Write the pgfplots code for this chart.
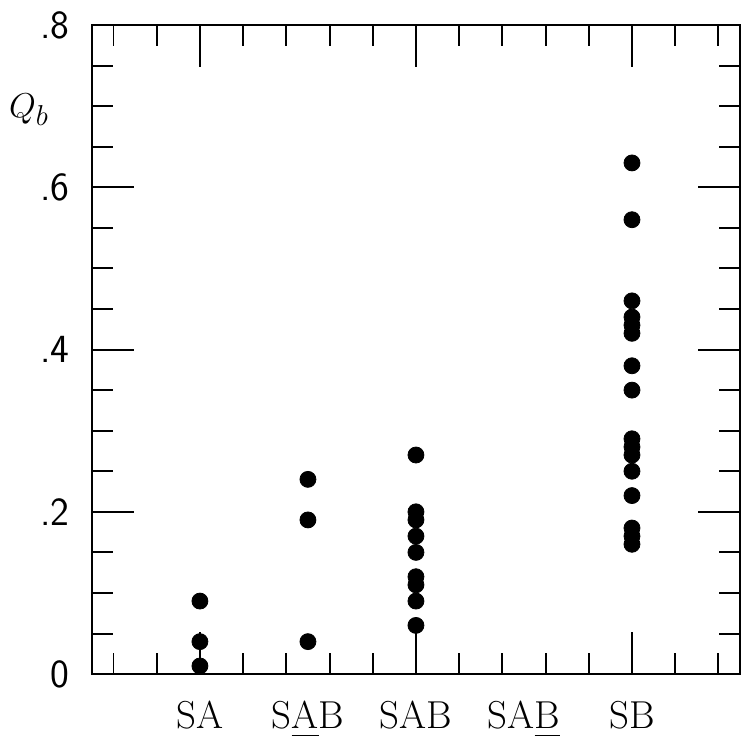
\documentclass[border=0pt]{standalone}
\usepackage{pgfplots}
\pgfplotsset{compat=1.18}
\newcommand\ul[1]{\setbox0\hbox{#1}\rlap{\rule[-3.6pt]{\wd0}{0.8pt}}\box0}
\begin{document}
\begin{tikzpicture}
\begin{axis}[
  scale only axis, width=324.5pt, height=325pt,
  xmin=0, xmax=6, ymin=0, ymax=0.8,
  xtick={1,3,5}, xticklabels={SA,SAB,SB},
  extra x ticks={2,4}, extra x tick labels={S\ul{A}B,SA\ul{B}},
  extra x tick style={major tick length=0pt},
  minor xtick={0.2,0.6,1.0,1.4,1.8,2.2,2.6,3.0,3.4,3.8,4.2,4.6,5.0,5.4,5.8},
  ytick={0,0.2,0.4,0.6,0.8}, yticklabels={0,.2,.4,.6,.8},
  minor ytick={0.05,0.1,0.15,0.25,0.3,0.35,0.45,0.5,0.55,0.65,0.7,0.75},
  major tick length=21pt, minor tick length=10.5pt,
  tick align=inside,
  axis line style={line width=1pt},
  every tick/.style={black, line width=1pt},
  xticklabel style={font=\fontsize{19.5}{22}\selectfont, anchor=north, inner sep=0pt, yshift=-13.5pt},
  yticklabel style={font=\sffamily\fontsize{20}{24}\selectfont, anchor=east, inner sep=0pt, xshift=-11pt},
  clip=false,
]
\addplot[only marks, mark=*, mark size=4pt, black] coordinates {
  (1,0.09) (1,0.04) (1,0.01)
  (2,0.24) (2,0.19) (2,0.04)
  (3,0.27) (3,0.20) (3,0.19) (3,0.17) (3,0.15) (3,0.12) (3,0.11) (3,0.09) (3,0.06)
  (5,0.63) (5,0.56) (5,0.46) (5,0.44) (5,0.43) (5,0.42) (5,0.38) (5,0.35)
  (5,0.29) (5,0.28) (5,0.27) (5,0.25) (5,0.22) (5,0.18) (5,0.17) (5,0.16)
};
\node[font=\fontsize{19}{22}\selectfont] at (rel axis cs:-0.097,0.869) {$Q_b$};
\path (rel axis cs:-0.1418,-0.1015) rectangle (rel axis cs:1,1.0385);
\end{axis}
\end{tikzpicture}
\end{document}
